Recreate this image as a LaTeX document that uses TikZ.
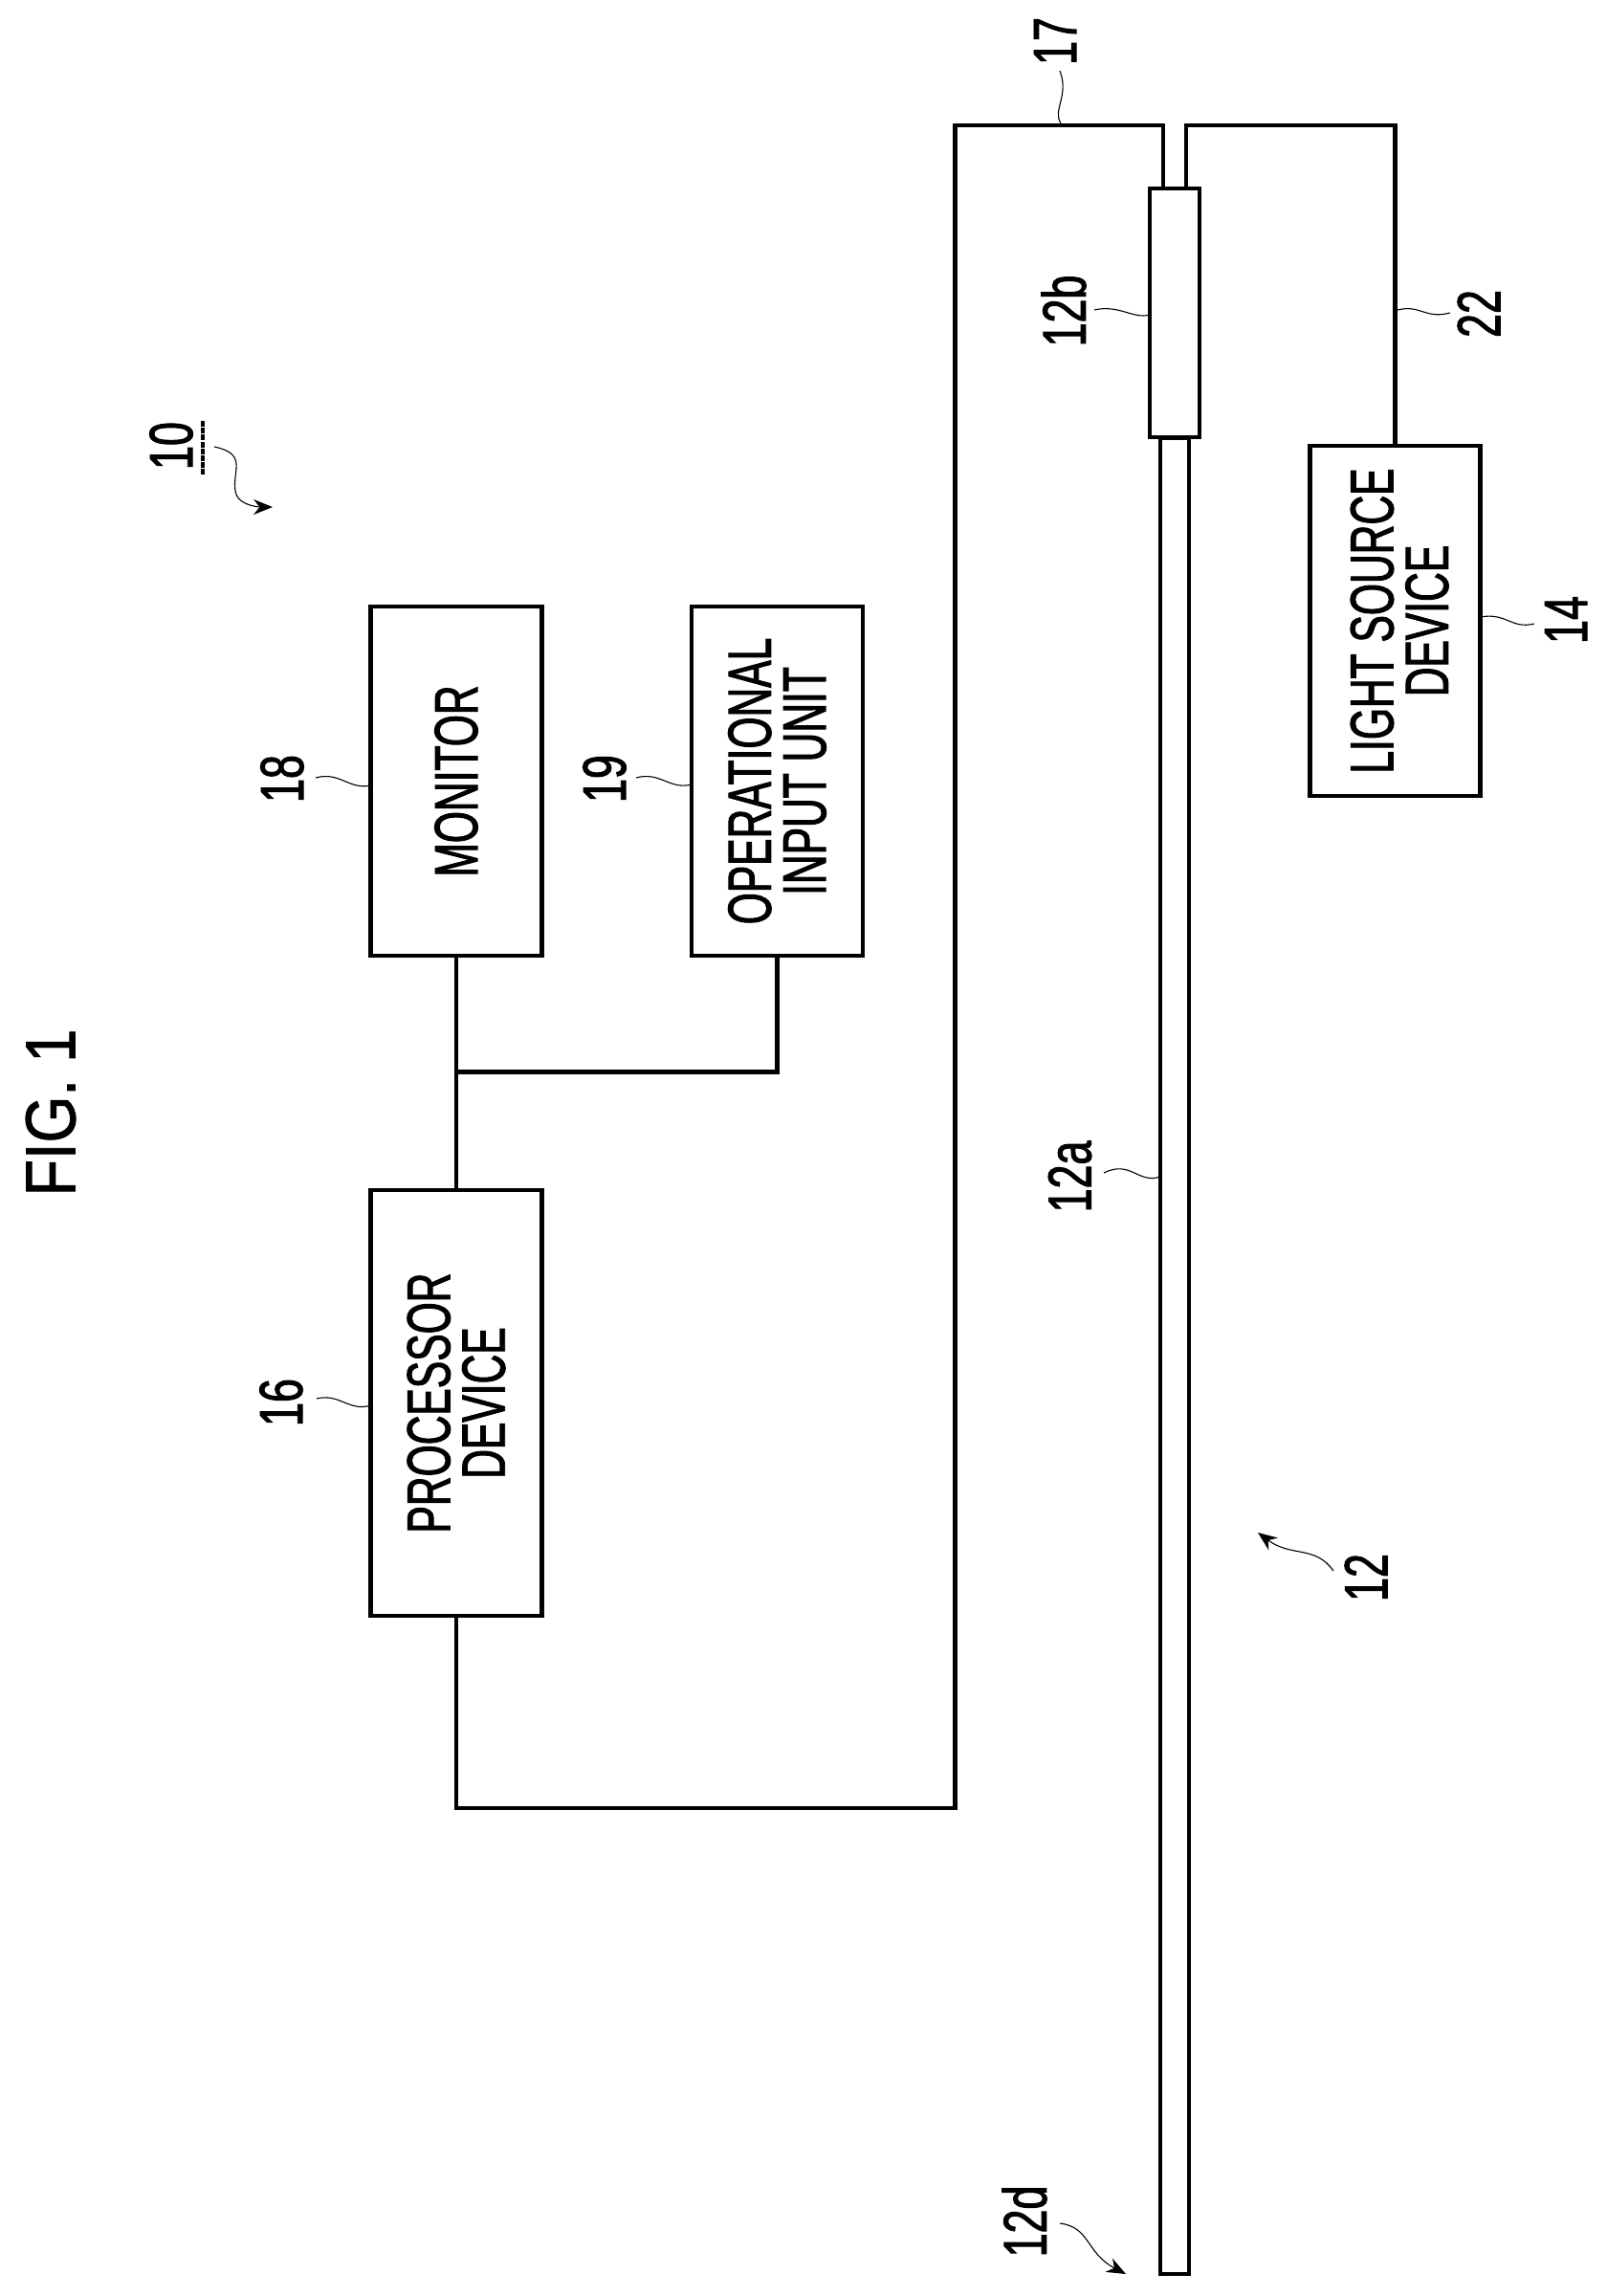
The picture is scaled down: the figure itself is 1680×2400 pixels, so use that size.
\documentclass[tikz,border=0pt]{standalone}
\usepackage{fontspec}
\usetikzlibrary{arrows.meta}
\newfontfamily\lblfont[FakeStretch=0.665,FakeBold=1.5]{Liberation Sans}
\newfontfamily\numfont[FakeStretch=0.70,FakeBold=1.5]{Liberation Sans}
\newfontfamily\figfont[FakeStretch=0.85,FakeBold=1.2]{Liberation Sans}
\tikzset{
  box/.style={draw=black,line width=2.3pt,fill=white,rotate=90,inner sep=0pt,outer sep=0pt,align=center,
    font=\lblfont\fontsize{32}{28.7}\selectfont},
  part/.style={draw=black,line width=2.3pt,fill=white,inner sep=0pt,outer sep=0pt},
  wire/.style={draw=black,line width=2.3pt,line join=miter},
  leader/.style={draw=black,line width=0.55pt},
  ptr/.style={leader,-{Stealth[length=10pt,width=8pt]}},
  num/.style={rotate=90,inner sep=0pt,font=\numfont\fontsize{32}{32}\selectfont},
}
\begin{document}
\begin{tikzpicture}[x=0.5pt,y=-0.5pt]
\useasboundingbox (0,0) rectangle (1680,2400);
\fill[white] (0,0) rectangle (1680,2400);
% boxes
\node[box,minimum width=182.5pt,minimum height=89.5pt] (mon) at (477,816.5) {MONITOR};
\node[box,minimum width=182.5pt,minimum height=89.5pt] (opi) at (812.5,816.5) {OPERATIONAL\\INPUT UNIT};
\node[box,minimum width=222.5pt,minimum height=89.5pt] (proc) at (477,1466.5) {PROCESSOR\\DEVICE};
\node[box,minimum width=183pt,minimum height=89pt] (lsd) at (1458.5,649) {\rule{0pt}{27pt}LIGHT SOURCE\hspace{4pt}\\DEVICE\hspace{4pt}};
\node[part,minimum width=15pt,minimum height=959.5pt] (tube) at (1228,1417.5) {};
\node[part,minimum width=26pt,minimum height=130pt] (grip) at (1228,327) {};
% wire corner points
\coordinate (jn) at (477,1120.5);
\coordinate (busL) at (998.5,1890);
\coordinate (topL) at (998.5,131);
\coordinate (topA) at (1216,131);
\coordinate (topB) at (1240,131);
\coordinate (topR) at (1458.5,131);
\coordinate (gripA) at (1216,197);
\coordinate (gripB) at (1240,197);
\coordinate (lsdT) at (1458.5,465);
% wires
\draw[wire] (mon.west) -- (proc.east);
\draw[wire] (opi.west) |- (jn);
\draw[wire] (proc.west) |- (busL) -- (topL) -- (topA) -- (gripA);
\draw[wire] (gripB) -- (topB) -- (topR) -- (lsdT);
% labels
\node[rotate=90,inner sep=0pt,font=\figfont\fontsize{37}{37}\selectfont] (fig) at (53,1163) {FIG. 1};
\node[num] (n10) at (179,466) {10};
\node[num] (n18) at (295,814) {18};
\node[num] (n19) at (632,814) {19};
\node[num] (n16) at (294,1466) {16};
\node[num] (n17) at (1103,43) {17};
\node[num] (n12b) at (1112,325) {12b};
\node[num] (n22) at (1546,328) {22};
\node[num] (n14) at (1637,648) {14};
\node[num] (n12a) at (1118.5,1230) {12a};
\node[num] (n12) at (1428,1649) {12};
\node[num] (n12d) at (1071,2322) {12d};
% underline of 10
\draw[black,line width=2pt,dash pattern=on 3pt off 0.6pt] (212,440) -- (212,496);
% leaders
\coordinate (a17) at (1109,129);
\coordinate (b17) at (1108,74);
\draw[leader] (a17) .. controls (1100,115) and (1118,100) .. (b17);
\draw[leader] (grip.west |- n12b) ++(0,4) .. controls (1185,334) and (1170,318) .. (1144,324);
\draw[leader] (1461,324) .. controls (1485,318) and (1490,334) .. (1516,327);
\draw[leader] (lsd.south |- n14) ++(0,-3) .. controls (1575,640) and (1580,658) .. (1604,652);
\draw[leader] (mon.north |- n18) ++(0,7) .. controls (365,826) and (355,806) .. (330,813);
\draw[leader] (opi.north |- n19) ++(0,6) .. controls (700,826) and (690,806) .. (665,813);
\draw[leader] (proc.north |- n16) ++(0,3) .. controls (365,1476) and (355,1456) .. (331,1462);
\draw[leader] (tube.west |- n12a) .. controls (1190,1238) and (1182,1212) .. (1154,1226);
\coordinate (t10) at (285,530);
\coordinate (t12) at (1315,1602);
\coordinate (t12d) at (1177,2377);
\draw[ptr] (224,467) .. controls (262,475) and (240,495) .. (247,517) .. controls (251,528) and (270,530) .. (t10);
\draw[ptr] (1394,1642) .. controls (1375,1615) and (1350,1628) .. (t12);
\draw[ptr] (1108,2324) .. controls (1140,2328) and (1135,2355) .. (t12d);
\end{tikzpicture}
\end{document}
